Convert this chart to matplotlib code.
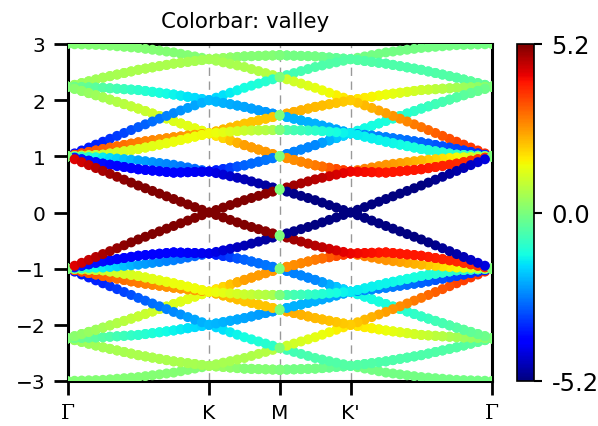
import numpy as np
import matplotlib.pyplot as plt

# k-path in units of |KM|: Gamma=0, K=2, M=3, K'=4, Gamma=6
k_knots = [0.0, 0.5, 1.0, 1.5, 2.0, 2.5, 3.0]
tick_pos = [0, 2, 3, 4, 6]
tick_labels = ['Γ', 'K', 'M', "K'", 'Γ']

# upper bands along Gamma-K-M (energy / valley at the knots above)
e00 = [3.00, 2.98, 2.93, 2.85, 2.73, 2.78, 2.80]
v00 = [0.1, 0.1, 0.1, 0.1, 0.1, 0.1, 0.1]
e33 = [2.24, 2.40, 2.54, 2.65, 2.73, 2.78, 2.80]
v33 = [0.3, 0.5, 0.6, 0.6, 0.5, 0.1, 0.1]
e30 = [2.24, 2.40, 2.54, 2.65, 2.73, 2.59, 2.41]
v30 = [0.3, 0.5, 0.6, 0.6, 0.5, 0.6, 0.8]
e01 = [2.24, 2.22, 2.18, 2.10, 2.00, 1.88, 1.73]
v01 = [-0.1, -0.5, -1.0, -1.4, -1.8, -2.2, -2.4]
e03 = [2.24, 2.22, 2.18, 2.10, 2.00, 2.22, 2.41]
v03 = [-0.1, -0.5, -1.0, -1.4, -1.8, -1.3, -0.9]
e10 = [2.24, 2.05, 1.85, 1.63, 1.41, 1.58, 1.73]
v10 = [0.1, 0.5, 0.9, 1.2, 1.4, 1.8, 2.1]
e11 = [2.24, 2.05, 1.85, 1.63, 1.41, 1.46, 1.47]
v11 = [0.1, 0.5, 0.9, 1.2, 1.4, 1.0, 0.5]
e23 = [1.00, 1.26, 1.52, 1.77, 2.00, 1.88, 1.73]
v23 = [-3.8, -3.5, -3.0, -2.5, -2.0, -2.2, -2.4]
e31 = [1.00, 1.13, 1.25, 1.34, 1.41, 1.20, 1.00]
v31 = [3.6, 3.2, 2.9, 2.6, 2.4, 2.5, 2.6]
e32 = [1.00, 1.13, 1.25, 1.34, 1.41, 1.58, 1.73]
v32 = [3.6, 3.2, 2.9, 2.6, 2.4, 2.1, 2.1]
e20 = [1.00, 1.03, 1.13, 1.26, 1.41, 1.20, 1.00]
v20 = [0.6, 1.0, 1.2, 1.4, 1.5, 2.5, 2.6]
e22 = [1.00, 1.03, 1.13, 1.26, 1.41, 1.46, 1.47]
v22 = [0.6, 1.0, 1.2, 1.4, 1.5, 1.0, 0.5]
e02 = [1.00, 0.98, 0.93, 0.85, 0.73, 0.84, 1.00]
v02 = [-0.5, -1.5, -2.2, -2.6, -3.0, -2.9, -2.6]
e13 = [1.00, 0.87, 0.77, 0.71, 0.73, 0.84, 1.00]
v13 = [-3.6, -3.8, -4.0, -4.0, -3.8, -2.9, -2.6]
e12 = [1.00, 0.87, 0.77, 0.71, 0.73, 0.59, 0.41]
v12 = [-3.6, -3.8, -4.0, -4.0, -4.2, -4.7, -5.0]
e21 = [1.00, 0.74, 0.48, 0.24, 0.00, 0.22, 0.41]
v21 = [4.2, 4.8, 5.2, 5.2, 5.2, 5.2, 5.0]

bands = [(e00, v00), (e33, v33), (e30, v30), (e01, v01), (e03, v03),
         (e10, v10), (e11, v11), (e23, v23), (e31, v31), (e32, v32),
         (e20, v20), (e22, v22), (e02, v02), (e13, v13), (e12, v12),
         (e21, v21)]

# sample points on Gamma-K-M
k_half = np.concatenate([np.linspace(0, 2, 21), np.linspace(2, 3, 11)[1:]])

ks, es, vs = [], [], []
for e, v in bands:
    ee = np.interp(k_half, k_knots, e)
    vv = np.interp(k_half, k_knots, v)
    # degenerate states at Gamma and M mix both valleys
    vv[0] = 0.0
    vv[-1] = 0.0
    # E -> -E keeps the valley, mirror about M swaps K and K'
    for kk, se, sv in [(k_half, 1, 1), (k_half, -1, 1),
                       (6 - k_half, 1, -1), (6 - k_half, -1, -1)]:
        ks.append(kk)
        es.append(se * ee)
        vs.append(sv * vv)
ks = np.concatenate(ks)
es = np.concatenate(es)
vs = np.concatenate(vs)

fig = plt.figure(figsize=(5.98, 4.27), dpi=100)
ax = fig.add_axes([67.5 / 598, 45 / 427, 424.5 / 598, 337 / 427])
cax = fig.add_axes([516.5 / 598, 45 / 427, 17 / 598, 337 / 427])

for x in tick_pos[1:-1]:
    ax.axvline(x, color='#999999', ls=(0, (6, 4)), lw=1, zorder=1)

sc = ax.scatter(ks, es, c=vs, cmap='jet', vmin=-5.2, vmax=5.2, s=52,
                linewidths=0, zorder=3)

ax.set_xlim(0, 6)
ax.set_ylim(-3, 3)
ax.set_xticks(tick_pos)
ax.set_xticklabels(tick_labels)
for lab in ax.get_xticklabels():
    if lab.get_text() == 'Γ':
        lab.set_family('DejaVu Serif')
ax.set_yticks(range(-3, 4))
ax.tick_params(direction='out', length=10, width=2, labelsize=14.5, pad=6)
for sp in ax.spines.values():
    sp.set_linewidth(2.2)

cb = fig.colorbar(sc, cax=cax, ticks=[-5.2, 0, 5.2])
cb.set_ticklabels(['-5.2', '0.0', '5.2'])
cb.outline.set_linewidth(1.2)
cax.tick_params(length=6, width=1.5, labelsize=17.5, pad=7)

fig.text(245 / 598, 1 - 28.3 / 427, 'Colorbar: valley', ha='center',
         va='baseline', fontsize=15.4)

fig.savefig('out.png', dpi=100)
